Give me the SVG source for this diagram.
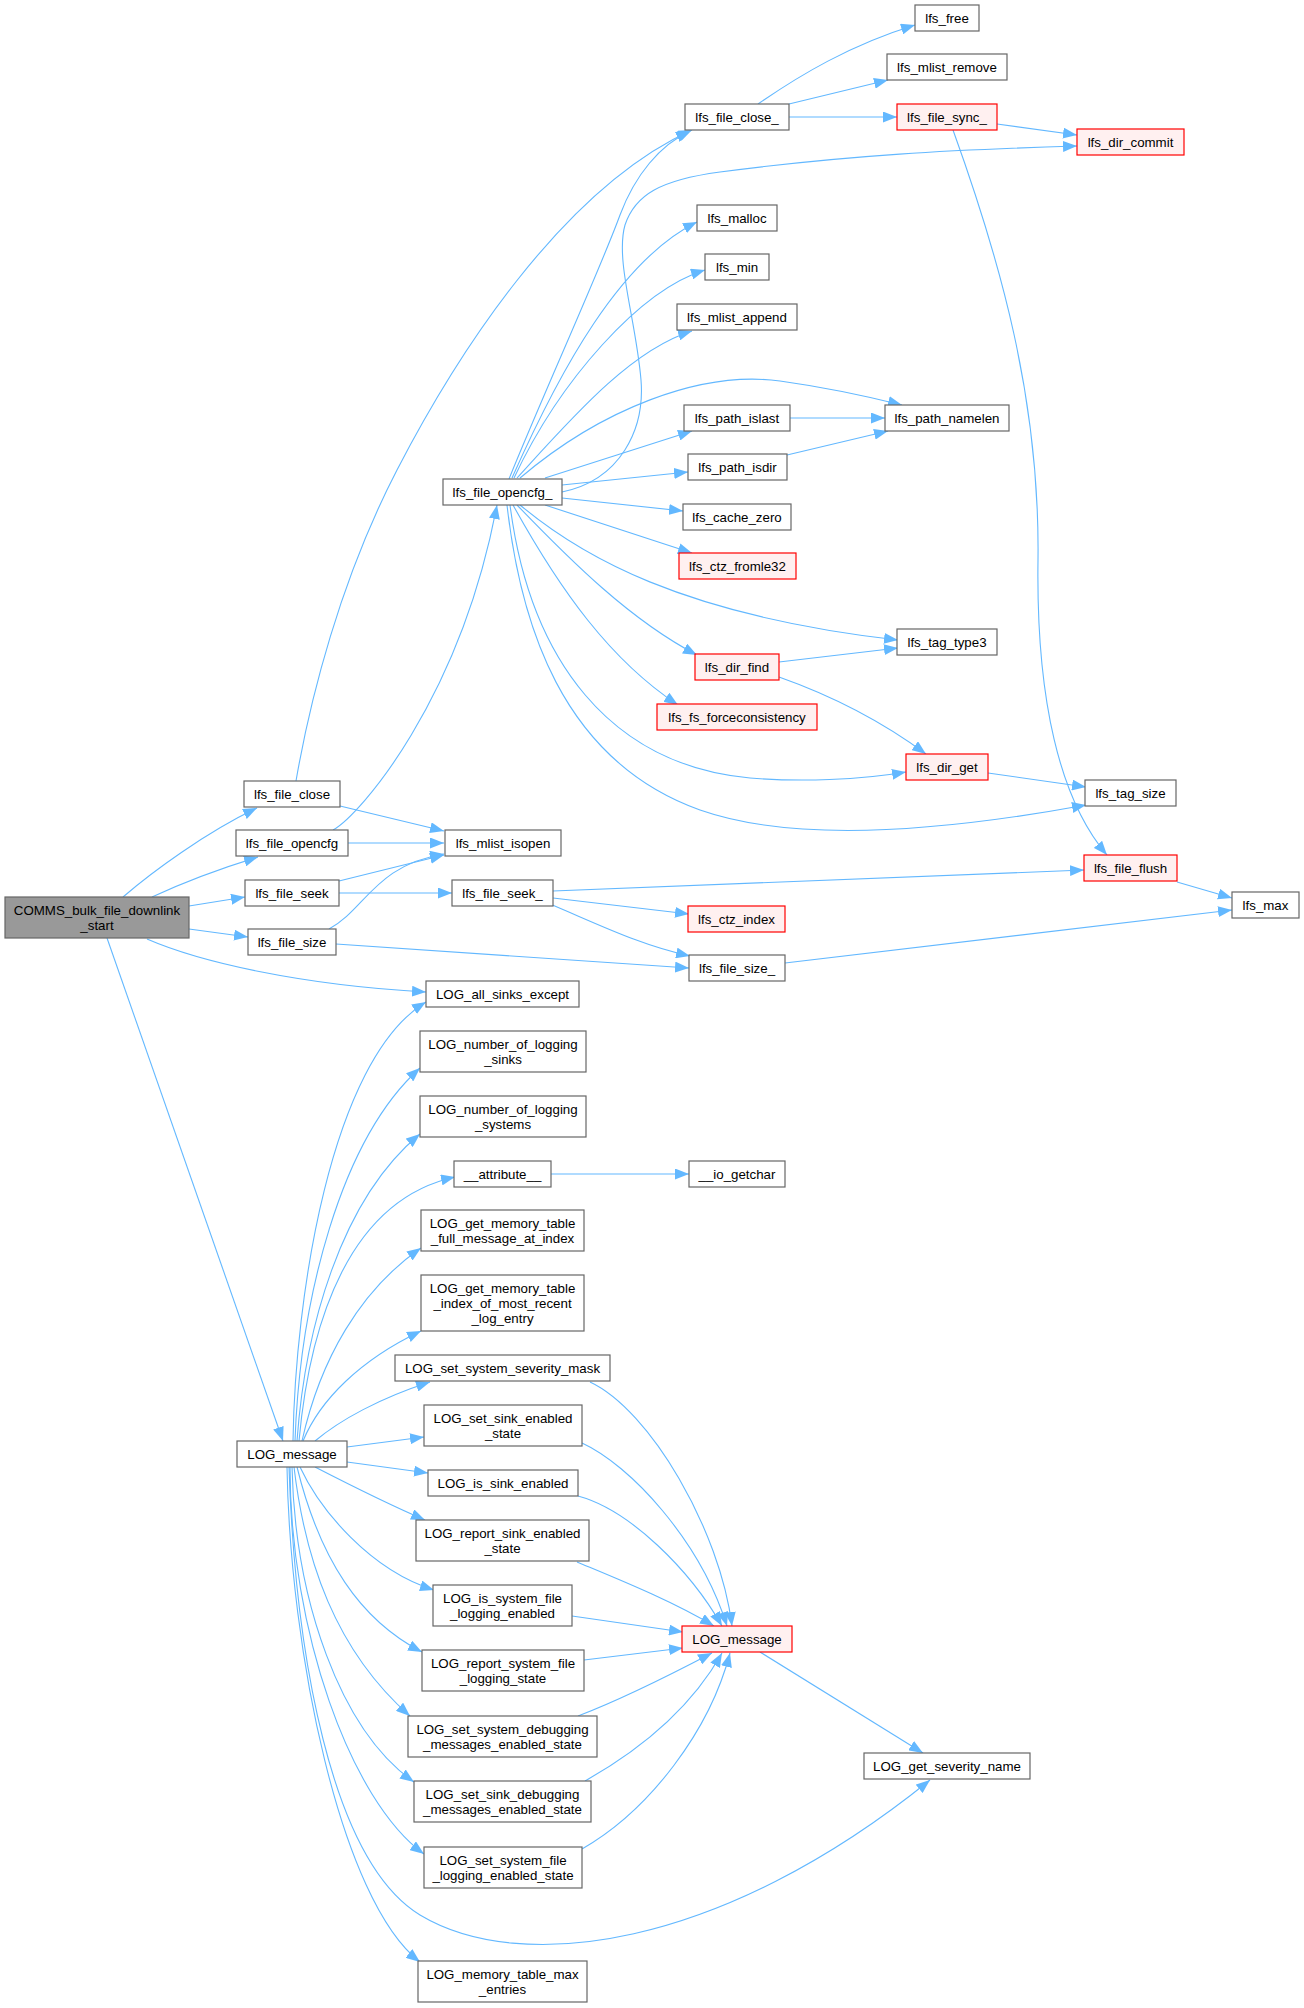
<svg xmlns="http://www.w3.org/2000/svg" width="1304" height="2008" viewBox="0 0 1304 2008">
<style>
text{font-family:"Liberation Sans",Arial,Helvetica,sans-serif;font-size:13.3px;text-anchor:middle;fill:#000}
.n rect{fill:#fff;stroke:#666;stroke-width:1.2}
.r rect{fill:#fff0f0;stroke:#f00;stroke-width:1.2}
.g rect{fill:#999;stroke:#666;stroke-width:1.2}
#edges path{fill:none;stroke:#63b8ff;stroke-width:1.1;marker-end:url(#a)}
</style>
<defs>
<marker id="a" markerUnits="userSpaceOnUse" markerWidth="15" markerHeight="11" refX="14" refY="5.5" orient="auto"><path d="M0,0 L14,5.5 L0,11 z" fill="#63b8ff"/></marker>
</defs>
<rect width="1304" height="2008" fill="#fff"/>
<g id="edges">
<path d="M123,897 C152,872 205,833 257,808"/>
<path d="M152,897 C180,884 222,868 258,857"/>
<path d="M189,906 L245,897"/>
<path d="M189,929 L248,937"/>
<path d="M147,939 C200,962 300,985 426,992"/>
<path d="M107,938 L283,1441"/>
<path d="M296,781 C310,700 340,580 397,470 S560,190 692,130"/>
<path d="M340,806 L444,831"/>
<path d="M348,843 L444,843"/>
<path d="M333,830 C360,815 460,700 497,505"/>
<path d="M339,881 L444,855"/>
<path d="M339,893 L452,893"/>
<path d="M329,929 C365,910 375,865 444,854"/>
<path d="M336,944 L689,968"/>
<path d="M553,891 L1084,870"/>
<path d="M553,898 L689,914"/>
<path d="M550,904 C600,925 640,945 690,956"/>
<path d="M1177,882 L1232,898"/>
<path d="M785,963 L1232,910"/>
<path d="M758,104 C800,75 850,45 915,25"/>
<path d="M789,104 L888,80"/>
<path d="M789,117 L897,117"/>
<path d="M997,124 L1077,135"/>
<path d="M953,130 C1000,260 1040,400 1038,560 C1036,700 1060,800 1107,855"/>
<path d="M509,479 C545,390 600,270 620,215 C635,175 660,145 690,131"/>
<path d="M562,492 C620,480 645,430 641,380 C636,320 615,260 625,225 C635,195 660,180 720,172 C850,155 950,150 1077,146"/>
<path d="M512,478 C560,370 620,260 697,222"/>
<path d="M514,478 C560,380 640,290 705,270"/>
<path d="M517,478 C570,420 630,350 692,331"/>
<path d="M520,478 C600,410 700,370 780,381 C830,388 870,397 902,405"/>
<path d="M545,478 L692,431"/>
<path d="M562,485 L688,472"/>
<path d="M562,498 L683,511"/>
<path d="M545,505 L692,553"/>
<path d="M520,505 C580,555 680,615 898,640"/>
<path d="M517,505 C570,560 630,620 697,655"/>
<path d="M513,505 C560,590 610,660 678,705"/>
<path d="M510,505 C530,660 610,765 750,778 C800,782 860,780 906,772"/>
<path d="M507,505 C520,620 560,760 700,810 C800,845 950,830 1086,805"/>
<path d="M790,418 L885,418"/>
<path d="M787,455 L888,431"/>
<path d="M779,662 L898,648"/>
<path d="M779,677 C830,695 880,720 926,754"/>
<path d="M988,773 L1086,787"/>
<path d="M551,1174 L689,1174"/>
<path d="M293,1441 C295,1300 330,1060 426,1002"/>
<path d="M295,1441 C300,1300 340,1140 420,1068"/>
<path d="M297,1441 C305,1330 340,1200 420,1134"/>
<path d="M299,1441 C310,1320 350,1200 455,1177"/>
<path d="M302,1441 C320,1360 360,1290 421,1248"/>
<path d="M303,1441 C320,1400 360,1360 421,1331"/>
<path d="M315,1441 C340,1420 380,1398 430,1382"/>
<path d="M347,1447 L424,1437"/>
<path d="M347,1462 L428,1473"/>
<path d="M315,1467 C350,1485 390,1505 425,1520"/>
<path d="M300,1467 C320,1510 370,1570 434,1590"/>
<path d="M297,1467 C320,1560 360,1620 422,1652"/>
<path d="M294,1467 C305,1560 335,1650 410,1716"/>
<path d="M292,1467 C295,1600 340,1730 414,1782"/>
<path d="M290,1467 C290,1630 350,1800 424,1854"/>
<path d="M289,1467 C295,1650 330,1860 420,1915 C520,1975 720,1950 930,1780"/>
<path d="M287,1467 C290,1650 340,1900 420,1962"/>
<path d="M590,1382 C650,1410 720,1530 732,1626"/>
<path d="M582,1443 C630,1465 700,1540 727,1626"/>
<path d="M578,1496 C630,1510 690,1570 722,1626"/>
<path d="M577,1562 C620,1580 670,1600 714,1626"/>
<path d="M572,1616 L683,1632"/>
<path d="M584,1660 L683,1648"/>
<path d="M578,1716 C620,1700 670,1675 712,1653"/>
<path d="M585,1781 C640,1750 690,1710 722,1653"/>
<path d="M582,1849 C650,1810 710,1730 730,1653"/>
<path d="M760,1652 L923,1753"/>
</g>
<g id="n0" class="g"><rect x="5" y="897" width="184" height="41"/><text x="97" y="915">COMMS_bulk_file_downlink</text><text x="97" y="930">_start</text></g>
<g id="n1" class="n"><rect x="244" y="781" width="96" height="26"/><text x="292" y="798.5">lfs_file_close</text></g>
<g id="n2" class="n"><rect x="236" y="830" width="112" height="26"/><text x="292" y="847.5">lfs_file_opencfg</text></g>
<g id="n3" class="n"><rect x="245" y="880" width="94" height="26"/><text x="292" y="897.5">lfs_file_seek</text></g>
<g id="n4" class="n"><rect x="248" y="929" width="88" height="26"/><text x="292" y="946.5">lfs_file_size</text></g>
<g id="n5" class="n"><rect x="426" y="981" width="153" height="26"/><text x="502.5" y="998.5">LOG_all_sinks_except</text></g>
<g id="n6" class="n"><rect x="237" y="1441" width="110" height="26"/><text x="292" y="1458.5">LOG_message</text></g>
<g id="n7" class="n"><rect x="445" y="830" width="116" height="26"/><text x="503" y="847.5">lfs_mlist_isopen</text></g>
<g id="n8" class="n"><rect x="452" y="880" width="101" height="26"/><text x="502.5" y="897.5">lfs_file_seek_</text></g>
<g id="n9" class="n"><rect x="685" y="104" width="104" height="26"/><text x="737" y="121.5">lfs_file_close_</text></g>
<g id="n10" class="n"><rect x="443" y="479" width="119" height="26"/><text x="502.5" y="496.5">lfs_file_opencfg_</text></g>
<g id="n11" class="n"><rect x="915" y="5" width="64" height="26"/><text x="947" y="22.5">lfs_free</text></g>
<g id="n12" class="n"><rect x="887" y="54" width="120" height="26"/><text x="947" y="71.5">lfs_mlist_remove</text></g>
<g id="n13" class="r"><rect x="897" y="104" width="100" height="26"/><text x="947" y="121.5">lfs_file_sync_</text></g>
<g id="n14" class="r"><rect x="1077" y="129" width="107" height="26"/><text x="1130.5" y="146.5">lfs_dir_commit</text></g>
<g id="n15" class="n"><rect x="697" y="205" width="80" height="26"/><text x="737" y="222.5">lfs_malloc</text></g>
<g id="n16" class="n"><rect x="705" y="254" width="64" height="26"/><text x="737" y="271.5">lfs_min</text></g>
<g id="n17" class="n"><rect x="677" y="304" width="120" height="26"/><text x="737" y="321.5">lfs_mlist_append</text></g>
<g id="n18" class="n"><rect x="684" y="405" width="106" height="26"/><text x="737" y="422.5">lfs_path_islast</text></g>
<g id="n19" class="n"><rect x="885" y="405" width="124" height="26"/><text x="947" y="422.5">lfs_path_namelen</text></g>
<g id="n20" class="n"><rect x="688" y="454" width="99" height="26"/><text x="737.5" y="471.5">lfs_path_isdir</text></g>
<g id="n21" class="n"><rect x="683" y="504" width="108" height="26"/><text x="737" y="521.5">lfs_cache_zero</text></g>
<g id="n22" class="r"><rect x="679" y="553" width="117" height="26"/><text x="737.5" y="570.5">lfs_ctz_fromle32</text></g>
<g id="n23" class="n"><rect x="897" y="629" width="100" height="26"/><text x="947" y="646.5">lfs_tag_type3</text></g>
<g id="n24" class="r"><rect x="695" y="654" width="84" height="26"/><text x="737" y="671.5">lfs_dir_find</text></g>
<g id="n25" class="r"><rect x="657" y="704" width="160" height="26"/><text x="737" y="721.5">lfs_fs_forceconsistency</text></g>
<g id="n26" class="r"><rect x="906" y="754" width="82" height="26"/><text x="947" y="771.5">lfs_dir_get</text></g>
<g id="n27" class="n"><rect x="1085" y="780" width="91" height="26"/><text x="1130.5" y="797.5">lfs_tag_size</text></g>
<g id="n28" class="r"><rect x="1084" y="855" width="93" height="26"/><text x="1130.5" y="872.5">lfs_file_flush</text></g>
<g id="n29" class="n"><rect x="1232" y="892" width="67" height="26"/><text x="1265.5" y="909.5">lfs_max</text></g>
<g id="n30" class="r"><rect x="688" y="906" width="97" height="26"/><text x="736.5" y="923.5">lfs_ctz_index</text></g>
<g id="n31" class="n"><rect x="689" y="955" width="96" height="26"/><text x="737" y="972.5">lfs_file_size_</text></g>
<g id="n32" class="n"><rect x="420" y="1031" width="166" height="41"/><text x="503" y="1049">LOG_number_of_logging</text><text x="503" y="1064">_sinks</text></g>
<g id="n33" class="n"><rect x="420" y="1096" width="166" height="41"/><text x="503" y="1114">LOG_number_of_logging</text><text x="503" y="1129">_systems</text></g>
<g id="n34" class="n"><rect x="454" y="1161" width="97" height="26"/><text x="502.5" y="1178.5">__attribute__</text></g>
<g id="n35" class="n"><rect x="689" y="1161" width="96" height="26"/><text x="737" y="1178.5">__io_getchar</text></g>
<g id="n36" class="n"><rect x="421" y="1210" width="163" height="41"/><text x="502.5" y="1228">LOG_get_memory_table</text><text x="502.5" y="1243">_full_message_at_index</text></g>
<g id="n37" class="n"><rect x="421" y="1275" width="163" height="56"/><text x="502.5" y="1293">LOG_get_memory_table</text><text x="502.5" y="1308">_index_of_most_recent</text><text x="502.5" y="1323">_log_entry</text></g>
<g id="n38" class="n"><rect x="395" y="1355" width="215" height="26"/><text x="502.5" y="1372.5">LOG_set_system_severity_mask</text></g>
<g id="n39" class="n"><rect x="424" y="1405" width="158" height="41"/><text x="503" y="1423">LOG_set_sink_enabled</text><text x="503" y="1438">_state</text></g>
<g id="n40" class="n"><rect x="428" y="1470" width="150" height="26"/><text x="503" y="1487.5">LOG_is_sink_enabled</text></g>
<g id="n41" class="n"><rect x="416" y="1520" width="173" height="41"/><text x="502.5" y="1538">LOG_report_sink_enabled</text><text x="502.5" y="1553">_state</text></g>
<g id="n42" class="n"><rect x="433" y="1585" width="139" height="41"/><text x="502.5" y="1603">LOG_is_system_file</text><text x="502.5" y="1618">_logging_enabled</text></g>
<g id="n43" class="r"><rect x="682" y="1626" width="110" height="26"/><text x="737" y="1643.5">LOG_message</text></g>
<g id="n44" class="n"><rect x="422" y="1650" width="162" height="41"/><text x="503" y="1668">LOG_report_system_file</text><text x="503" y="1683">_logging_state</text></g>
<g id="n45" class="n"><rect x="408" y="1716" width="189" height="41"/><text x="502.5" y="1734">LOG_set_system_debugging</text><text x="502.5" y="1749">_messages_enabled_state</text></g>
<g id="n46" class="n"><rect x="414" y="1781" width="177" height="41"/><text x="502.5" y="1799">LOG_set_sink_debugging</text><text x="502.5" y="1814">_messages_enabled_state</text></g>
<g id="n47" class="n"><rect x="424" y="1847" width="158" height="41"/><text x="503" y="1865">LOG_set_system_file</text><text x="503" y="1880">_logging_enabled_state</text></g>
<g id="n48" class="n"><rect x="864" y="1753" width="166" height="26"/><text x="947" y="1770.5">LOG_get_severity_name</text></g>
<g id="n49" class="n"><rect x="418" y="1961" width="169" height="41"/><text x="502.5" y="1979">LOG_memory_table_max</text><text x="502.5" y="1994">_entries</text></g>
</svg>
